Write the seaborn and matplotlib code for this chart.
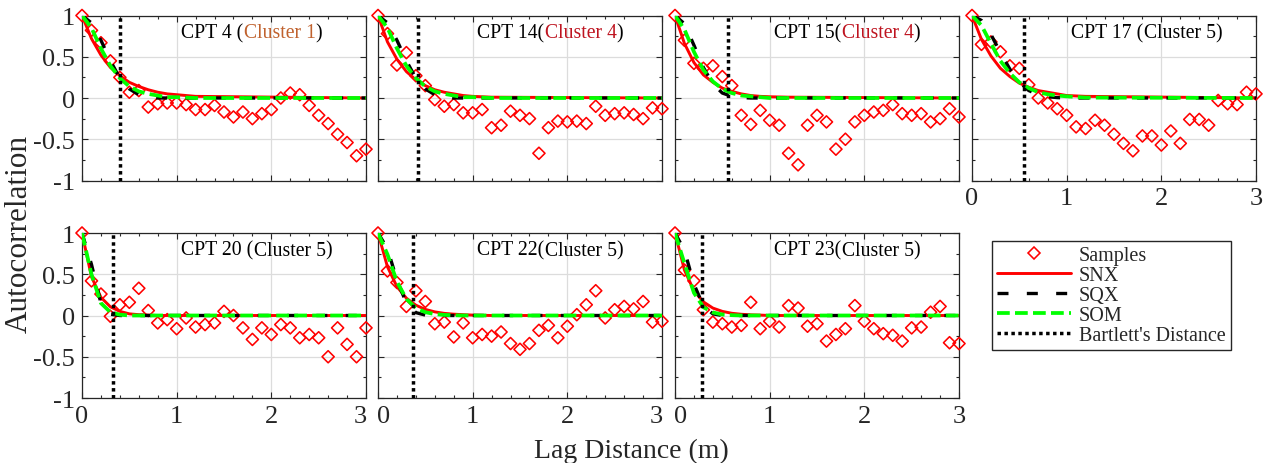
import matplotlib
matplotlib.use("Agg")
import matplotlib.pyplot as plt
import matplotlib.transforms as mtransforms
from matplotlib.lines import Line2D
import seaborn as sns
import pandas as pd

# ---------------------------------------------------------------- data
lags = [0.0, 0.1, 0.2, 0.3, 0.4, 0.5, 0.6, 0.7, 0.8, 0.9, 1.0,
        1.1, 1.2, 1.3, 1.4, 1.5, 1.6, 1.7, 1.8, 1.9, 2.0,
        2.1, 2.2, 2.3, 2.4, 2.5, 2.6, 2.7, 2.8, 2.9, 3.0]

# lag positions at which the fitted correlation models are tabulated
model_lags = [0.0, 0.1, 0.2, 0.3, 0.4, 0.5, 0.6, 0.7, 0.8, 0.9, 1.0, 1.2, 3.0]

cpt_names = ["CPT 4", "CPT 14", "CPT 15", "CPT 17", "CPT 20", "CPT 22", "CPT 23"]
cluster_names = ["Cluster 1", "Cluster 4", "Cluster 4", "Cluster 5",
                 "Cluster 5", "Cluster 5", "Cluster 5"]
name_gaps = [" ", "", "", " ", " ", "", ""]

bartlett = [0.40, 0.42, 0.56, 0.55, 0.33, 0.37, 0.29]

samples_cpt4 = [1.00, 0.82, 0.67, 0.45, 0.25, 0.07, 0.09, -0.11, -0.07, -0.06, -0.06,
                -0.08, -0.14, -0.14, -0.09, -0.17, -0.23, -0.17, -0.25, -0.19, -0.14,
                0.00, 0.06, 0.04, -0.09, -0.21, -0.31, -0.44, -0.54, -0.70, -0.62]
samples_cpt14 = [1.00, 0.78, 0.40, 0.55, 0.27, 0.15, -0.02, -0.10, -0.08, -0.18, -0.18,
                 -0.14, -0.36, -0.33, -0.16, -0.21, -0.25, -0.67, -0.36, -0.28, -0.29,
                 -0.28, -0.31, -0.10, -0.21, -0.19, -0.18, -0.20, -0.25, -0.12, -0.13]
samples_cpt15 = [1.00, 0.70, 0.42, 0.36, 0.39, 0.26, 0.15, -0.21, -0.32, -0.15, -0.27,
                 -0.33, -0.67, -0.81, -0.33, -0.21, -0.29, -0.62, -0.50, -0.29, -0.21,
                 -0.17, -0.15, -0.08, -0.19, -0.21, -0.19, -0.29, -0.25, -0.13, -0.23]
samples_cpt17 = [1.00, 0.65, 0.68, 0.56, 0.39, 0.36, 0.16, 0.00, -0.06, -0.13, -0.21,
                 -0.35, -0.37, -0.27, -0.33, -0.44, -0.55, -0.64, -0.46, -0.46, -0.57,
                 -0.40, -0.55, -0.26, -0.26, -0.33, -0.03, -0.07, -0.08, 0.07, 0.05]
samples_cpt20 = [1.00, 0.42, 0.26, -0.01, 0.13, 0.16, 0.33, 0.06, -0.09, -0.05, -0.16,
                 -0.03, -0.14, -0.11, -0.09, 0.05, 0.00, -0.15, -0.29, -0.15, -0.23,
                 -0.11, -0.15, -0.27, -0.23, -0.27, -0.50, -0.15, -0.35, -0.50, -0.15]
samples_cpt22 = [1.00, 0.54, 0.40, 0.11, 0.30, 0.17, -0.10, -0.08, -0.26, -0.09, -0.27,
                 -0.23, -0.25, -0.20, -0.34, -0.41, -0.34, -0.18, -0.12, -0.27, -0.13,
                 0.01, 0.13, 0.30, -0.03, 0.07, 0.11, 0.08, 0.17, -0.08, -0.07]
samples_cpt23 = [1.00, 0.55, 0.42, 0.07, -0.08, -0.10, -0.14, -0.12, 0.16, -0.16, -0.07,
                 -0.14, 0.12, 0.09, -0.13, -0.10, -0.31, -0.23, -0.16, 0.12, -0.07,
                 -0.16, -0.22, -0.24, -0.31, -0.15, -0.14, 0.04, 0.11, -0.33, -0.34]

snx_cpt4 = [1, 0.72, 0.52, 0.37, 0.27, 0.19, 0.14, 0.10, 0.07, 0.05, 0.04, 0.02, 0]
sqx_cpt4 = [1, 0.91, 0.70, 0.45, 0.24, 0.11, 0.04, 0.01, 0, 0, 0, 0, 0]
som_cpt4 = [1, 0.85, 0.60, 0.39, 0.24, 0.14, 0.08, 0.05, 0.03, 0.01, 0.01, 0, 0]

snx_cpt14 = [1, 0.68, 0.47, 0.32, 0.22, 0.15, 0.10, 0.07, 0.05, 0.03, 0.02, 0.01, 0]
sqx_cpt14 = [1, 0.91, 0.70, 0.45, 0.24, 0.11, 0.04, 0.01, 0, 0, 0, 0, 0]
som_cpt14 = [1, 0.85, 0.60, 0.39, 0.24, 0.14, 0.08, 0.05, 0.03, 0.01, 0.01, 0, 0]

snx_cpt15 = [1, 0.66, 0.43, 0.28, 0.19, 0.12, 0.08, 0.05, 0.03, 0.02, 0.015, 0.01, 0]
sqx_cpt15 = [1, 0.90, 0.64, 0.37, 0.17, 0.06, 0.02, 0.005, 0, 0, 0, 0, 0]
som_cpt15 = [1, 0.83, 0.56, 0.34, 0.20, 0.11, 0.06, 0.03, 0.02, 0.01, 0, 0, 0]

snx_cpt17 = [1, 0.71, 0.51, 0.36, 0.26, 0.18, 0.13, 0.09, 0.07, 0.05, 0.03, 0.02, 0]
sqx_cpt17 = [1, 0.94, 0.77, 0.55, 0.35, 0.19, 0.09, 0.04, 0.015, 0.005, 0, 0, 0]
som_cpt17 = [1, 0.88, 0.66, 0.45, 0.30, 0.19, 0.12, 0.07, 0.045, 0.03, 0.02, 0.005, 0]

snx_cpt20 = [1, 0.47, 0.22, 0.105, 0.05, 0.02, 0.01, 0.005, 0, 0, 0, 0, 0]
sqx_cpt20 = [1, 0.62, 0.15, 0.015, 0, 0, 0, 0, 0, 0, 0, 0, 0]
som_cpt20 = [1, 0.50, 0.15, 0.04, 0.01, 0, 0, 0, 0, 0, 0, 0, 0]

snx_cpt22 = [1, 0.59, 0.35, 0.21, 0.125, 0.074, 0.044, 0.026, 0.016, 0.01, 0.005, 0, 0]
sqx_cpt22 = [1, 0.81, 0.43, 0.15, 0.035, 0.005, 0, 0, 0, 0, 0, 0, 0]
som_cpt22 = [1, 0.74, 0.41, 0.20, 0.09, 0.04, 0.017, 0.007, 0.003, 0, 0, 0, 0]

snx_cpt23 = [1, 0.55, 0.30, 0.165, 0.09, 0.05, 0.027, 0.015, 0.008, 0.005, 0, 0, 0]
sqx_cpt23 = [1, 0.79, 0.38, 0.115, 0.02, 0, 0, 0, 0, 0, 0, 0, 0]
som_cpt23 = [1, 0.63, 0.275, 0.10, 0.037, 0.012, 0.004, 0, 0, 0, 0, 0, 0]

samples = [samples_cpt4, samples_cpt14, samples_cpt15, samples_cpt17,
           samples_cpt20, samples_cpt22, samples_cpt23]
snx = [snx_cpt4, snx_cpt14, snx_cpt15, snx_cpt17, snx_cpt20, snx_cpt22, snx_cpt23]
sqx = [sqx_cpt4, sqx_cpt14, sqx_cpt15, sqx_cpt17, sqx_cpt20, sqx_cpt22, sqx_cpt23]
som = [som_cpt4, som_cpt14, som_cpt15, som_cpt17, som_cpt20, som_cpt22, som_cpt23]

x_ticks = [0, 1, 2, 3]
x_ticklabels = ["0", "1", "2", "3"]
y_ticks = [-1, -0.5, 0, 0.5, 1]
y_ticklabels = ["-1", "-0.5", "0", "0.5", "1"]

# ---------------------------------------------------------------- style
sns.set_theme(style="ticks")
plt.rcParams["font.family"] = ["Liberation Serif", "DejaVu Serif"]

cluster_colors = {"Cluster 1": "#C0622E", "Cluster 4": "#BE1420", "Cluster 5": "black"}
edge = "#262626"
TICK_FS = 19
NOTE_FS = 14.2

SNX_STYLE = dict(color="red", linewidth=2.1)
SQX_STYLE = dict(color="black", linewidth=2.4, linestyle=(0, (3.3, 5.5)))
SOM_STYLE = dict(color="#00FF00", linewidth=2.7, linestyle=(0, (3.4, 1.4)))
BART_STYLE = dict(color="black", linewidth=2.5, linestyle=(0, (1, 1)))

W, H = 1268, 464
fig = plt.figure(figsize=(W / 100, H / 100), dpi=100)

col_left = [82, 378, 675, 972]
row_top = [16.5, 234]
ax_w, ax_h = 284, 165


def add_axes(left, top):
    return fig.add_axes([left / W, 1 - (top + ax_h) / H, ax_w / W, ax_h / H])


def panel_title(ax, name, gap, cluster):
    t = ax.text(0.35, 0.895, name + gap + "(", transform=ax.transAxes,
                fontsize=NOTE_FS, color="black", va="center", ha="left", zorder=8)
    t = ax.annotate(cluster, xy=(1, 0), xycoords=t, va="bottom", ha="left",
                    fontsize=NOTE_FS, color=cluster_colors[cluster], zorder=8)
    ax.annotate(")", xy=(1, 0), xycoords=t, va="bottom", ha="left",
                fontsize=NOTE_FS, color="black", zorder=8)


def nudge(label, dx_px):
    label.set_transform(label.get_transform() +
                        mtransforms.ScaledTranslation(dx_px / 100, 0, fig.dpi_scale_trans))


positions = [(0, 0), (0, 1), (0, 2), (0, 3), (1, 0), (1, 1), (1, 2)]

for k, (r, c) in enumerate(positions):
    ax = add_axes(col_left[c], row_top[r])

    df_s = pd.DataFrame({"lag": lags, "rho": samples[k]})
    df_m = pd.DataFrame({"lag": model_lags, "snx": snx[k], "sqx": sqx[k], "som": som[k]})

    sns.scatterplot(data=df_s, x="lag", y="rho", ax=ax, marker="D", s=38,
                    facecolor="none", edgecolor="red", linewidth=1.15,
                    clip_on=False, zorder=3, legend=False)
    sns.lineplot(data=df_m, x="lag", y="snx", ax=ax, sort=False, zorder=4,
                 legend=False, **SNX_STYLE)
    sns.lineplot(data=df_m, x="lag", y="sqx", ax=ax, sort=False, zorder=5,
                 legend=False, dashes=False, **SQX_STYLE)
    sns.lineplot(data=df_m, x="lag", y="som", ax=ax, sort=False, zorder=6,
                 legend=False, dashes=False, **SOM_STYLE)
    ax.axvline(bartlett[k], zorder=7, **BART_STYLE)

    ax.set_xlim(0, 3)
    ax.set_ylim(-1, 1)
    ax.set_xticks(x_ticks)
    ax.set_xticks([v / 5 for v in range(16)], minor=True)
    ax.set_yticks(y_ticks)
    ax.set_yticks([v / 4 - 1 for v in range(9)], minor=True)
    ax.grid(True, which="major", color="#DCDCDC", linewidth=0.9)
    ax.set_axisbelow(True)
    ax.tick_params(which="both", direction="in", top=True, right=True,
                   color=edge, labelsize=TICK_FS, pad=5)
    ax.tick_params(which="major", length=4.5, width=0.8)
    ax.tick_params(which="minor", length=2.5, width=0.8)
    for sp in ax.spines.values():
        sp.set_color(edge)
        sp.set_linewidth(0.9)
    ax.set_xlabel("")
    ax.set_ylabel("")

    if c == 0:
        ax.set_yticklabels(y_ticklabels)
    else:
        ax.set_yticklabels([])
    if r == 1 or c == 3:
        ax.set_xticklabels(x_ticklabels)
        ticks = ax.xaxis.get_major_ticks()
        if r == 1 and c > 0:
            nudge(ticks[0].label1, 6)
        if r == 1 and c < 2:
            nudge(ticks[-1].label1, -6)
    else:
        ax.set_xticklabels([])

    panel_title(ax, cpt_names[k], name_gaps[k], cluster_names[k])

# shared axis labels
fig.text(631 / W, 1 - 451 / H, "Lag Distance (m)", fontsize=20,
         ha="center", va="center")
fig.text(19 / W, 1 - 234 / H, "Autocorrelation", fontsize=22.5,
         rotation=90, ha="center", va="center")

# legend in the free cell
handles = [
    Line2D([], [], linestyle="none", marker="D", markersize=6.2,
           markerfacecolor="none", markeredgecolor="red", markeredgewidth=1.15),
    Line2D([], [], **SNX_STYLE),
    Line2D([], [], **SQX_STYLE),
    Line2D([], [], **SOM_STYLE),
    Line2D([], [], **BART_STYLE),
]
labels = ["Samples", "SNX", "SQX", "SOM", "Bartlett's Distance"]
leg = fig.legend(handles, labels, loc="upper left",
                 bbox_to_anchor=(991.5 / W, 1 - 241.5 / H),
                 fontsize=14.5, frameon=True, fancybox=False, framealpha=1,
                 edgecolor=edge, handlelength=3.7, handletextpad=0.4,
                 labelspacing=0.05, borderpad=0.25, borderaxespad=0)
leg.get_frame().set_linewidth(1.0)

fig.savefig("out.png", dpi=100)
